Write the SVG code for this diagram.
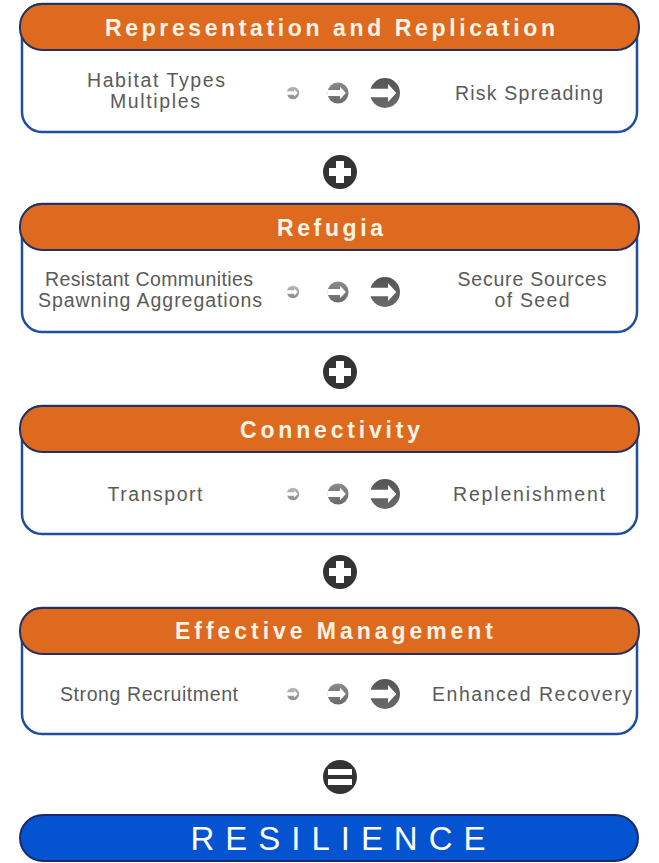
<svg xmlns="http://www.w3.org/2000/svg" xmlns:xlink="http://www.w3.org/1999/xlink" width="659" height="863" viewBox="0 0 659 863">
<style>
.box{fill:#fff;stroke:#1f4f9c;stroke-width:2.5}
.hdr{fill:#DD6A1E;stroke:#28305e;stroke-width:2}
.ht{font-family:"Liberation Sans",Arial,sans-serif;font-weight:bold;font-size:23px;fill:#fdf3e6;text-anchor:middle}
.bt{font-family:"Liberation Sans",Arial,sans-serif;font-size:19.5px;fill:#5a5a5a;text-anchor:middle}
.op{fill:#333}
.rt{font-family:"Liberation Sans",Arial,sans-serif;font-size:33px;fill:#fff;text-anchor:middle}
</style>
<defs>
<linearGradient id="g1" x1="0" y1="0" x2="0" y2="1"><stop offset="0" stop-color="#b8b8b8"/><stop offset="1" stop-color="#8c8c8c"/></linearGradient>
<linearGradient id="g2" x1="0" y1="0" x2="0" y2="1"><stop offset="0" stop-color="#8a8a8a"/><stop offset="1" stop-color="#6a6a6a"/></linearGradient>
<linearGradient id="g3" x1="0" y1="0" x2="0" y2="1"><stop offset="0" stop-color="#555"/><stop offset="1" stop-color="#6a6a6a"/></linearGradient>
<path id="arw" d="M-10,-2.8 H2 V-6 L7.5,0 L2,6 V2.8 H-10 Z" fill="#fff"/>
<g id="i1"><circle r="10" fill="url(#g1)"/><use xlink:href="#arw"/></g>
<g id="i2"><circle r="10" fill="url(#g2)"/><use xlink:href="#arw"/></g>
<g id="i3"><circle r="10" fill="url(#g3)"/><use xlink:href="#arw"/></g>
<g id="icons">
<use xlink:href="#i1" transform="translate(293,0) scale(0.62)"/>
<use xlink:href="#i2" transform="translate(338,0) scale(1.05)"/>
<use xlink:href="#i3" transform="translate(385,0) scale(1.5)"/>
</g>
</defs>

<g id="panel1">
<rect class="box" x="22" y="4" width="615" height="128" rx="20"/>
<rect class="hdr" x="20" y="4" width="619" height="46" rx="22"/>
<text class="ht" x="330" y="36" textLength="450">Representation and Replication</text>
<text class="bt" x="156" y="87" textLength="138">Habitat Types</text>
<text class="bt" x="155" y="108" textLength="90">Multiples</text>
<use xlink:href="#icons" y="93"/>
<text class="bt" x="529" y="100" textLength="148">Risk Spreading</text>
</g>

<g id="panel2">
<rect class="box" x="22" y="204" width="615" height="128" rx="20"/>
<rect class="hdr" x="20" y="204" width="619" height="46" rx="22"/>
<text class="ht" x="330" y="236" textLength="106">Refugia</text>
<text class="bt" x="149" y="286" textLength="208">Resistant Communities</text>
<text class="bt" x="150" y="307" textLength="224">Spawning Aggregations</text>
<use xlink:href="#icons" y="292"/>
<text class="bt" x="532" y="286" textLength="149">Secure Sources</text>
<text class="bt" x="532" y="307" textLength="75">of Seed</text>
</g>

<g id="panel3">
<rect class="box" x="22" y="406" width="615" height="128" rx="20"/>
<rect class="hdr" x="20" y="406" width="619" height="46" rx="22"/>
<text class="ht" x="330" y="438" textLength="180">Connectivity</text>
<text class="bt" x="155" y="501" textLength="95">Transport</text>
<use xlink:href="#icons" y="494"/>
<text class="bt" x="529" y="501" textLength="152">Replenishment</text>
</g>

<g id="panel4">
<rect class="box" x="22" y="608" width="615" height="126" rx="20"/>
<rect class="hdr" x="20" y="608" width="619" height="46" rx="22"/>
<text class="ht" x="334" y="639" textLength="318">Effective Management</text>
<text class="bt" x="149" y="701" textLength="178">Strong Recruitment</text>
<use xlink:href="#icons" y="694"/>
<text class="bt" x="532" y="701" textLength="200">Enhanced Recovery</text>
</g>

<g id="connectors">
<g transform="translate(340,172)"><circle class="op" r="17"/><path d="M-4,-11 H4 V-4 H11 V4 H4 V11 H-4 V4 H-11 V-4 H-4 Z" fill="#fff"/></g>
<g transform="translate(340,372)"><circle class="op" r="17"/><path d="M-4,-11 H4 V-4 H11 V4 H4 V11 H-4 V4 H-11 V-4 H-4 Z" fill="#fff"/></g>
<g transform="translate(340,572)"><circle class="op" r="17"/><path d="M-4,-11 H4 V-4 H11 V4 H4 V11 H-4 V4 H-11 V-4 H-4 Z" fill="#fff"/></g>
<g transform="translate(340,777)"><circle class="op" r="17"/><rect x="-12" y="-8" width="24" height="6" fill="#fff"/><rect x="-12" y="2" width="24" height="6" fill="#fff"/></g>
</g>

<g id="resilience">
<rect x="20" y="815" width="618" height="46" rx="23" fill="#0453D0" stroke="#1a2a6a" stroke-width="2"/>
<text class="rt" x="338" y="850" textLength="295">RESILIENCE</text>
</g>
</svg>
